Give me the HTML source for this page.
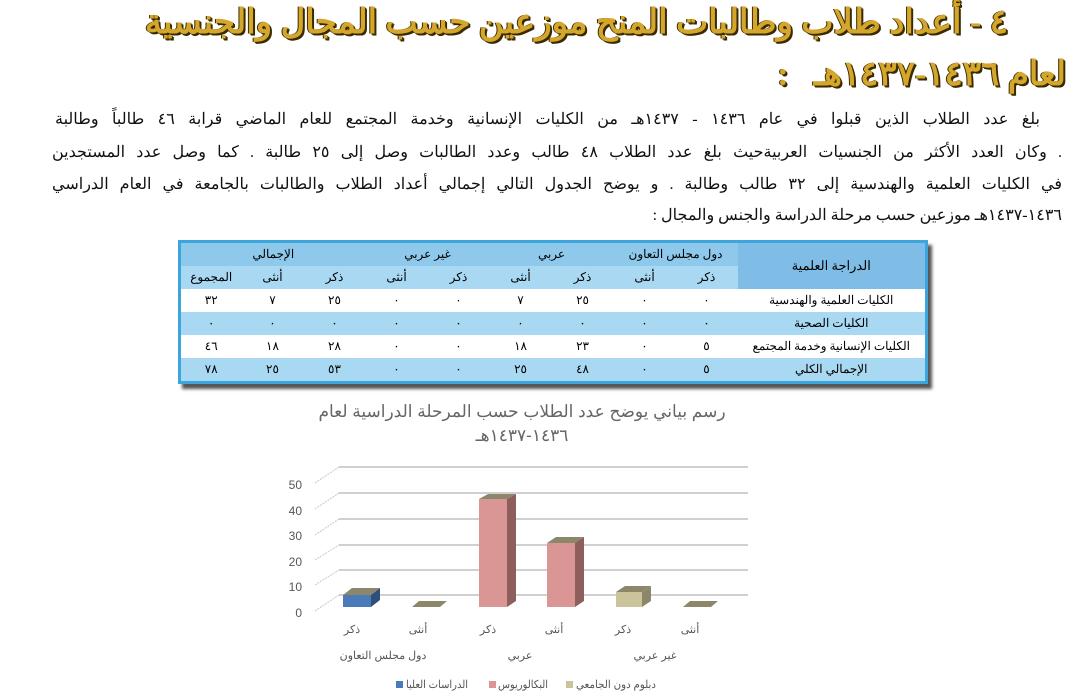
<!DOCTYPE html>
<html><head><meta charset="utf-8"><style>
body{margin:0;width:1086px;height:697px;background:#fff;position:relative;overflow:hidden;font-family:"Liberation Sans","Noto Sans CJK SC",sans-serif}
.t{position:absolute;right:78px;font-family:"Liberation Serif","WenQuanYi Zen Hei",serif;font-weight:bold;color:#d4a72c;font-size:34px;direction:rtl;text-shadow:1px 1px 0 #3a2a00,2px 2px 0 #3a2a00,-1px 0 0 #3a2a00;white-space:nowrap;letter-spacing:1px}
.p{position:absolute;left:52px;width:1010px;direction:rtl;text-align:justify;text-align-last:justify;font-family:"Liberation Serif","Noto Serif CJK SC",serif;font-size:16px;color:#111;white-space:nowrap}
table{position:absolute;left:178px;top:240px;width:747px;border-collapse:collapse;table-layout:fixed;direction:rtl;font-family:"Liberation Serif","Noto Serif CJK SC",serif;font-size:12px;border:3px solid #3ba5dc;box-shadow:4px 5px 3px #555}
td{text-align:center;padding:0;height:23px;overflow:hidden;white-space:nowrap}
</style></head><body>
<div class="t" style="top:2px;">٤ - أعداد طلاب وطالبات المنح موزعين حسب المجال والجنسية</div>
<div class="t" style="top:54px;right:20px">لعام ١٤٣٦-١٤٣٧هـ &nbsp;&nbsp;:</div>
<div class="p" style="top:109px;left:55px;width:985px">بلغ عدد الطلاب الذين قبلوا في عام ١٤٣٦ - ١٤٣٧هـ من الكليات الإنسانية وخدمة المجتمع للعام الماضي قرابة ٤٦ طالباً وطالبة</div>
<div class="p" style="top:142px">. وكان العدد الأكثر من الجنسيات العربيةحيث بلغ عدد الطلاب ٤٨ طالب وعدد الطالبات وصل إلى ٢٥ طالبة . كما وصل عدد المستجدين</div>
<div class="p" style="top:174px">في الكليات العلمية والهندسية إلى ٣٢ طالب وطالبة . و يوضح الجدول التالي إجمالي أعداد الطلاب والطالبات بالجامعة في العام الدراسي</div>
<div class="p" style="top:205px;text-align-last:right">١٤٣٦-١٤٣٧هـ موزعين حسب مرحلة الدراسة والجنس والمجال :</div>
<table>
<colgroup><col style="width:189px"><col style="width:62px"><col style="width:62px"><col style="width:62px"><col style="width:62px"><col style="width:62px"><col style="width:62px"><col style="width:62px"><col style="width:62px"><col style="width:62px"></colgroup>
<tr style="background:#8ec8ea"><td rowspan="2" style="background:#7fbde6;font-size:13px">الدراجة العلمية</td><td colspan="2">دول مجلس التعاون</td><td colspan="2">عربي</td><td colspan="2">غير عربي</td><td colspan="3">الإجمالي</td></tr>
<tr style="background:#a8d8f2"><td>ذكر</td><td>أنثى</td><td>ذكر</td><td>أنثى</td><td>ذكر</td><td>أنثى</td><td>ذكر</td><td>أنثى</td><td>المجموع</td></tr>
<tr style="background:#fff"><td>الكليات العلمية والهندسية</td><td>٠</td><td>٠</td><td>٢٥</td><td>٧</td><td>٠</td><td>٠</td><td>٢٥</td><td>٧</td><td>٣٢</td></tr>
<tr style="background:#a8d8f2"><td>الكليات الصحية</td><td>٠</td><td>٠</td><td>٠</td><td>٠</td><td>٠</td><td>٠</td><td>٠</td><td>٠</td><td>٠</td></tr>
<tr style="background:#fff"><td>الكليات الإنسانية وخدمة المجتمع</td><td>٥</td><td>٠</td><td>٢٣</td><td>١٨</td><td>٠</td><td>٠</td><td>٢٨</td><td>١٨</td><td>٤٦</td></tr>
<tr style="background:#a8d8f2"><td>الإجمالي الكلي</td><td>٥</td><td>٠</td><td>٤٨</td><td>٢٥</td><td>٠</td><td>٠</td><td>٥٣</td><td>٢٥</td><td>٧٨</td></tr>
</table>
<svg width="1086" height="697" style="position:absolute;left:0;top:0" font-family="Liberation Sans, Noto Sans CJK SC, sans-serif">
<text x="522" y="417" font-size="17" fill="#666" text-anchor="middle" direction="rtl">رسم بياني يوضح عدد الطلاب حسب المرحلة الدراسية لعام</text>
<text x="522" y="441" font-size="17" fill="#666" text-anchor="middle" direction="rtl">١٤٣٦-١٤٣٧هـ</text>
<g stroke="#d0d0d0" stroke-width="2">
<line x1="339" y1="467" x2="748" y2="467"/><line x1="339" y1="493" x2="748" y2="493"/><line x1="339" y1="519" x2="748" y2="519"/><line x1="339" y1="545" x2="748" y2="545"/><line x1="339" y1="570" x2="748" y2="570"/><line x1="339" y1="595" x2="748" y2="595"/>
</g>
<g stroke="#c8c8c8" stroke-width="1" stroke-dasharray="2,1">
<line x1="315" y1="483" x2="339" y2="467"/><line x1="315" y1="509" x2="339" y2="493"/><line x1="315" y1="535" x2="339" y2="519"/><line x1="315" y1="560" x2="339" y2="545"/><line x1="315" y1="585" x2="339" y2="570"/><line x1="315" y1="611" x2="339" y2="595"/>
</g>
<g font-size="12" fill="#555" text-anchor="end">
<text x="302" y="489">50</text><text x="302" y="515">40</text><text x="302" y="540">30</text><text x="302" y="566">20</text><text x="302" y="591">10</text><text x="302" y="617">0</text>
</g>
<polygon points="343,595 371,595 380,588 352,588" fill="#8c876a"/>
<polygon points="371,595 380,588 380,600 371,607" fill="#2e4f7a"/>
<rect x="343" y="595" width="28" height="12" fill="#4a7ab8"/>
<polygon points="412,607 440,607 447,601 419,601" fill="#8c876a"/>
<polygon points="479,499 507,499 516,494 488,494" fill="#8c876a"/>
<polygon points="507,499 516,494 516,601 507,607" fill="#8d5e5c"/>
<rect x="479" y="499" width="28" height="108" fill="#d99694"/>
<polygon points="547,543 575,543 584,537 556,537" fill="#8c876a"/>
<polygon points="575,543 584,537 584,601 575,607" fill="#8d5e5c"/>
<rect x="547" y="543" width="28" height="64" fill="#d99694"/>
<polygon points="616,592 642,592 651,586 625,586" fill="#8c876a"/>
<polygon points="642,592 651,586 651,601 642,607" fill="#8c876a"/>
<rect x="616" y="592" width="26" height="15" fill="#cbc49a"/>
<polygon points="683,607 711,607 718,601 690,601" fill="#8c876a"/>
<g font-size="11" fill="#555" text-anchor="middle">
<text x="352" y="633">ذكر</text><text x="418" y="633">أنثى</text><text x="488" y="633">ذكر</text><text x="554" y="633">أنثى</text><text x="623" y="633">ذكر</text><text x="690" y="633">أنثى</text>
<text x="383" y="659">دول مجلس التعاون</text><text x="520" y="659">عربي</text><text x="655" y="659">غير عربي</text>
</g>
<g font-size="11" fill="#555">
<rect x="396" y="681" width="7" height="7" fill="#4a7ab8"/><text x="406" y="688" textLength="62" lengthAdjust="spacingAndGlyphs">الدراسات العليا</text>
<rect x="489" y="681" width="7" height="7" fill="#d99694"/><text x="498" y="688" textLength="50" lengthAdjust="spacingAndGlyphs">البكالوريوس</text>
<rect x="566" y="681" width="7" height="7" fill="#cbc49a"/><text x="576" y="688" textLength="80" lengthAdjust="spacingAndGlyphs">دبلوم دون الجامعي</text>
</g>
</svg>
</body></html>
